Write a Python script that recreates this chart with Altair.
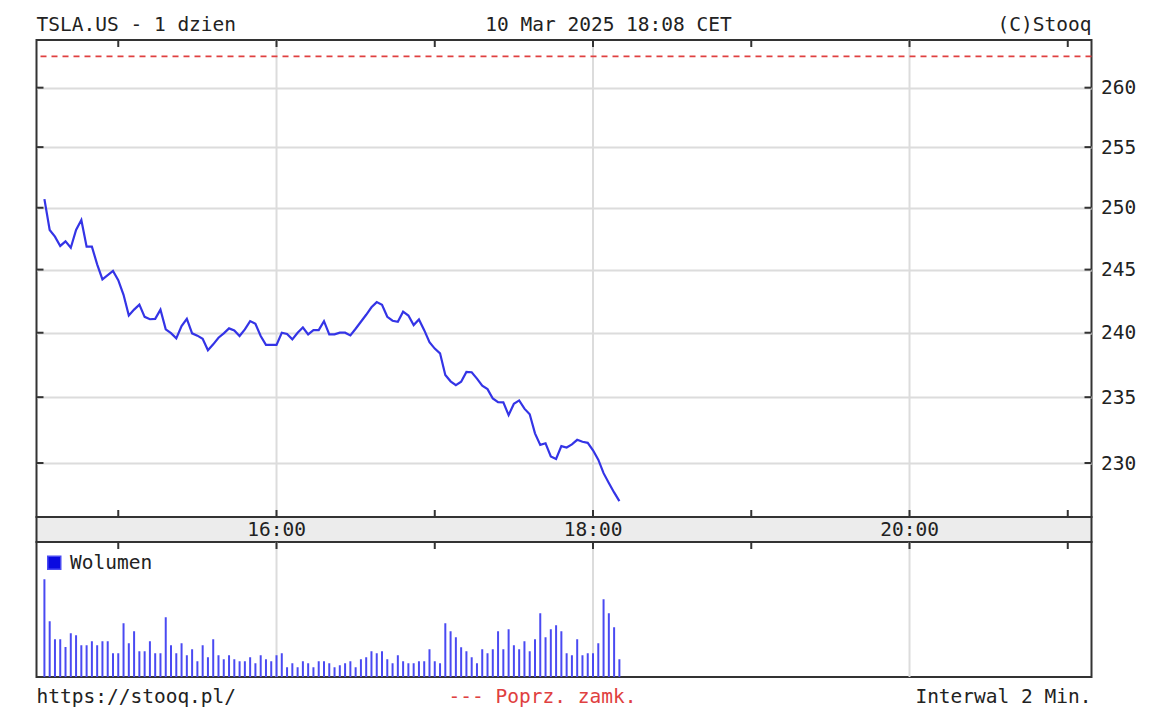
import altair as alt
import pandas as pd

FONT = "DejaVu Sans Mono"
FS = 19.5
TXT = "#222222"
BORDER = "#333333"
GRID = "#dcdcdc"

# ---- data ----
start_min = 14 * 60 + 32          # first 2-minute bar stamped 14:32 CET
step_min = 2

price = [
    250.70, 248.19, 247.65, 246.90, 247.27, 246.75, 248.19, 249.00, 246.84, 246.84,
    245.42, 244.22, 244.55, 244.89, 244.16, 242.99, 241.35, 241.82, 242.21, 241.25,
    241.06, 241.09, 241.82, 240.26, 239.97, 239.56, 240.52, 241.09, 239.95, 239.77,
    239.53, 238.63, 239.09, 239.61, 239.95, 240.34, 240.18, 239.74, 240.26, 240.91,
    240.70, 239.74, 239.05, 239.05, 239.05, 240.00, 239.90, 239.48, 240.00, 240.41,
    239.87, 240.20, 240.20, 240.91, 239.87, 239.87, 240.00, 240.00, 239.79, 240.31,
    240.86, 241.41, 242.00, 242.41, 242.20, 241.25, 240.94, 240.86, 241.66, 241.35,
    240.60, 241.04, 240.20, 239.26, 238.76, 238.39, 236.71, 236.22, 235.93, 236.19,
    236.94, 236.92, 236.43, 235.88, 235.62, 234.90, 234.62, 234.60, 233.63, 234.50,
    234.75, 234.12, 233.69, 232.24, 231.37, 231.49, 230.50, 230.30, 231.27, 231.17,
    231.40, 231.75, 231.60, 231.52, 230.96, 230.25, 229.24, 228.50, 227.80, 227.15,
]

volume_k = [
    3910, 2230, 1510, 1510, 1200, 1750, 1670, 1270, 1270, 1430,
    1270, 1430, 1430, 950, 950, 2150, 1350, 1830, 1030, 1030,
    1430, 950, 950, 2390, 1270, 950, 1350, 870, 1110, 630,
    1270, 790, 1510, 870, 710, 870, 710, 630, 630, 790,
    550, 870, 710, 630, 870, 950, 390, 550, 390, 630,
    550, 390, 630, 630, 550, 390, 470, 550, 630, 390,
    710, 790, 1030, 950, 1030, 710, 550, 870, 630, 550,
    550, 630, 630, 1110, 630, 550, 2150, 1830, 1590, 1190,
    1030, 790, 550, 1110, 950, 1110, 1830, 1110, 1910, 1270,
    1110, 1430, 1030, 1510, 2550, 1590, 1910, 2070, 1830, 950,
    870, 1510, 870, 950, 950, 1350, 3110, 2550, 1990, 710,
]

prev_close = [262.67]
price_ticks = [230, 235, 240, 245, 250, 255, 260]
hour_ticks = [900, 960, 1020, 1080, 1140, 1200, 1260]     # 15:00 ... 21:00
grid_hours = [960, 1080, 1200]
grid_labels = ["16:00", "18:00", "20:00"]

header_left = ["TSLA.US - 1 dzien"]
header_mid = ["10 Mar 2025 18:08 CET"]
header_right = ["(C)Stooq"]
footer_left = ["https://stooq.pl/"]
footer_mid = ["--- Poprz. zamk."]
footer_right = ["Interwal 2 Min."]

times = [start_min + step_min * i for i in range(len(price))]

# ---- layout ----
W = 1055
H_HEAD = 32
H_PRICE = 477
H_BAND = 25
H_VOL = 135
H_FOOT = 30

xscale = alt.Scale(domain=[869, 1269], nice=False, zero=False)
yscale = alt.Scale(type="log", domain=[225.98, 264.08], nice=False, zero=False)
yaxis = alt.Axis(
    orient="right", values=price_ticks, grid=True, gridColor=GRID, gridWidth=2,
    ticks=False, domain=False, labelPadding=9, labelFont=FONT, labelFontSize=FS,
    labelColor=TXT, title=None, format="d", labelFlush=False,
)
X_NONE = dict(scale=xscale, axis=None)

df_p = pd.DataFrame({"t": times, "p": price})
df_h = pd.DataFrame({"h": hour_ticks})
df_g = pd.DataFrame({"h": grid_hours, "lab": grid_labels})
df_yt = pd.DataFrame({"p": price_ticks})
df_prev = pd.DataFrame({"p": prev_close})

vgrid = alt.Chart(df_g).mark_rule(color=GRID, strokeWidth=2).encode(
    x=alt.X("h:Q", **X_NONE))
prev = alt.Chart(df_prev).mark_rule(color="#e04040", strokeWidth=1.6, strokeDash=[6, 5]).encode(
    y=alt.Y("p:Q", scale=yscale, axis=yaxis))
line = alt.Chart(df_p).mark_line(color="#3434e6", strokeWidth=2.2).encode(
    x=alt.X("t:Q", **X_NONE), y=alt.Y("p:Q", scale=yscale, axis=yaxis))
top_ticks = alt.Chart(df_h).mark_rule(color=BORDER, strokeWidth=2).encode(
    x=alt.X("h:Q", **X_NONE), y=alt.value(0), y2=alt.value(7))
bot_ticks = alt.Chart(df_h).mark_rule(color=BORDER, strokeWidth=2).encode(
    x=alt.X("h:Q", **X_NONE), y=alt.value(H_PRICE - 7), y2=alt.value(H_PRICE))
left_ticks = alt.Chart(df_yt).mark_rule(color=BORDER, strokeWidth=2).encode(
    y=alt.Y("p:Q", scale=yscale, axis=yaxis), x=alt.value(0), x2=alt.value(7))
right_ticks = alt.Chart(df_yt).mark_rule(color=BORDER, strokeWidth=2).encode(
    y=alt.Y("p:Q", scale=yscale, axis=yaxis), x=alt.value(W - 7), x2=alt.value(W))

price_panel = alt.layer(vgrid, prev, line, top_ticks, bot_ticks, left_ticks, right_ticks).properties(
    width=W, height=H_PRICE,
    view=alt.ViewBackground(stroke=BORDER, strokeWidth=2, fill="white"))

band = alt.Chart(df_g).mark_text(font=FONT, fontSize=FS, color=TXT, baseline="middle").encode(
    x=alt.X("h:Q", **X_NONE), y=alt.value(H_BAND / 2 + 0.5), text="lab:N"
).properties(width=W, height=H_BAND,
             view=alt.ViewBackground(fill="#ececec", stroke=BORDER, strokeWidth=2))

df_v = pd.DataFrame({"t": times, "v": volume_k, "s": ["Wolumen"] * len(times)})
vgrid2 = alt.Chart(df_g).mark_rule(color=GRID, strokeWidth=2).encode(
    x=alt.X("h:Q", **X_NONE))
bars = alt.Chart(df_v).mark_rule(strokeWidth=2).encode(
    x=alt.X("t:Q", **X_NONE),
    y=alt.Y("v:Q", scale=alt.Scale(domain=[0, 5400], nice=False), axis=None),
    y2=alt.datum(0),
    color=alt.Color("s:N", scale=alt.Scale(range=["#4a4af2"]), legend=alt.Legend(
        orient="none", legendX=8, legendY=545, title=None, symbolType="square",
        symbolSize=169, symbolStrokeColor="#111111", symbolStrokeWidth=1.5,
        symbolFillColor="#0a0ae0", labelFont=FONT, labelFontSize=FS, labelColor=TXT,
        padding=0, labelOffset=6)),
)
vol_ticks = alt.Chart(df_h).mark_rule(color=BORDER, strokeWidth=2).encode(
    x=alt.X("h:Q", **X_NONE), y=alt.value(0), y2=alt.value(7))
volume_panel = alt.layer(vgrid2, bars, vol_ticks).properties(
    width=W, height=H_VOL,
    view=alt.ViewBackground(stroke=BORDER, strokeWidth=2, fill="white"))


def text_layer(values, x, y, align, color=TXT):
    return alt.Chart(pd.DataFrame({"txt": values})).mark_text(
        font=FONT, fontSize=FS, color=color, align=align, baseline="alphabetic"
    ).encode(text="txt:N", x=alt.value(x), y=alt.value(y))


header = alt.layer(
    text_layer(header_left, 0, 23, "left"),
    text_layer(header_mid, 572, 23, "center"),
    text_layer(header_right, W, 23, "right"),
).properties(width=W, height=H_HEAD, view=alt.ViewBackground(strokeOpacity=0))

footer = alt.layer(
    text_layer(footer_left, 0, 26, "left"),
    text_layer(footer_mid, 506, 26, "center", color="#e04040"),
    text_layer(footer_right, W, 26, "right"),
).properties(width=W, height=H_FOOT, view=alt.ViewBackground(strokeOpacity=0))

chart = alt.vconcat(
    header, price_panel, band, volume_panel, footer, spacing=0, bounds="flush"
).properties(
    padding={"left": 26.5, "top": 0, "right": 4, "bottom": 0},
    background="white",
).configure(font=FONT)

chart.save("out.html", embed_options={"renderer": "svg", "actions": False})
